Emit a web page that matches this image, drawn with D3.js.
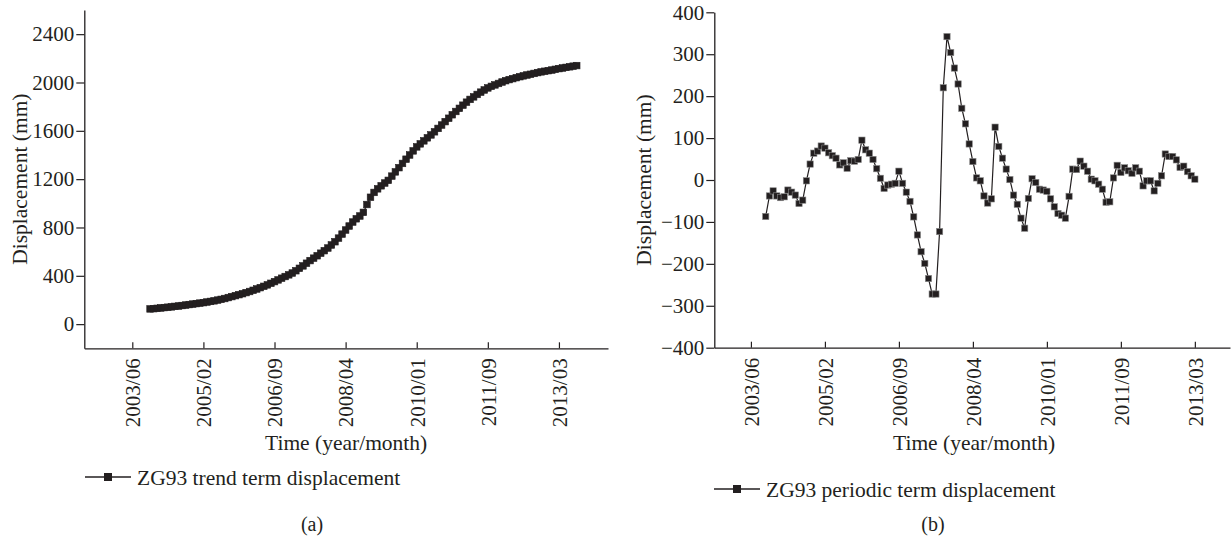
<!DOCTYPE html>
<html><head><meta charset="utf-8">
<script src="https://cdn.jsdelivr.net/npm/d3@7"></script>
<style>
body{margin:0;background:#fff}
svg text{font-family:"Liberation Serif","DejaVu Serif",serif;fill:#231f20}
</style>
</head><body>
<svg id="chart" width="1231" height="544"></svg>
<script>
// Shared time axis: one tick every 20 monthly records
const tickLabels = ["2003/06","2005/02","2006/09","2008/04","2010/01","2011/09","2013/03"];
const tickIndex = [0, 20, 40, 60, 80, 100, 120];

// (a) trend term, records from index 5 onward (mm)
const trendStart = 5;
const trendValues = [
  126,128,131,134,137,140,143,147,150,154,158,162,166,170,174,178,183,188,193,199,
  205,212,220,228,236,244,252,261,270,280,291,302,313,325,338,352,366,380,394,408,
  423,442,462,482,504,526,546,566,587,608,630,655,682,712,745,779,812,845,872,895,
  925,990,1050,1090,1120,1145,1168,1190,1225,1260,1295,1330,1365,1400,1434,1467,1492,1517,1542,1566,
  1592,1620,1648,1676,1704,1733,1760,1786,1812,1837,1860,1881,1901,1920,1938,1955,1968,1980,1992,2004,
  2015,2024,2032,2040,2048,2055,2062,2068,2075,2082,2088,2093,2098,2103,2109,2115,2120,2125,2130,2135,
  2140
];
const trendYTicks = [0, 400, 800, 1200, 1600, 2000, 2400];

// (b) periodic term, records from index 4 onward (mm)
const periodicStart = 4;
const periodicValues = [
  -87,-38,-26,-38,-42,-40,-24,-29,-36,-56,-48,-2,38,64,69,81,76,65,58,52,
  36,41,28,46,45,49,95,72,64,49,27,4,-20,-12,-10,-8,21,-8,
  -29,-51,-88,-131,-171,-199,-235,-272,-272,-123,220,342,304,267,229,171,134,86,44,5,
  -2,-38,-55,-45,126,80,52,26,1,-36,-58,-91,-115,-44,3,-6,-22,
  -24,-27,-45,-64,-80,-84,-91,-39,26,25,45,33,21,2,-2,-10,-22,-53,-52,5,
  35,18,29,22,16,29,21,-14,-2,-2,-26,-8,10,62,56,56,48,30,33,20,10,2
];
const periodicYTicks = [-400, -300, -200, -100, 0, 100, 200, 300, 400];

const ink = "#231f20";
const svg = d3.select("#chart");

function panel(cfg) {
  const g = svg.append("g");
  const x = d3.scaleLinear().domain(cfg.xDomain).range(cfg.xRange);
  const y = d3.scaleLinear().domain(cfg.yDomain).range(cfg.yRange);
  const data = cfg.values.map((v, i) => ({i: cfg.start + i, v}));

  // x axis with inward ticks and vertical labels
  const xAxis = g.append("g")
    .attr("transform", `translate(0,${cfg.yRange[0]})`)
    .call(d3.axisBottom(x).tickValues(tickIndex)
      .tickFormat((d, k) => tickLabels[k]).tickSizeInner(-6).tickSizeOuter(0));
  xAxis.select(".domain").attr("stroke", ink).attr("stroke-width", 1.3);
  xAxis.selectAll(".tick line").attr("stroke", ink).attr("stroke-width", 1.2);
  xAxis.selectAll(".tick text")
    .attr("font-size", 21).attr("fill", ink)
    .attr("transform", "rotate(-90)")
    .attr("text-anchor", "end")
    .attr("x", -10).attr("y", 0).attr("dy", "0.35em");

  // y axis
  const yAxis = g.append("g")
    .attr("transform", `translate(${cfg.xRange[0]},0)`)
    .call(d3.axisLeft(y).tickValues(cfg.yTicks).tickSizeInner(8).tickSizeOuter(0)
      .tickFormat(d => d < 0 ? "\u2212" + Math.abs(d) : d));
  yAxis.select(".domain").attr("stroke", ink).attr("stroke-width", 1.3);
  yAxis.selectAll(".tick line").attr("stroke", ink).attr("stroke-width", 1.2);
  yAxis.selectAll(".tick text").attr("font-size", 21).attr("fill", ink).attr("x", -10);

  // axis titles
  g.append("text")
    .attr("transform", `translate(${cfg.yTitleX},${(cfg.yRange[0] + cfg.yRange[1]) / 2}) rotate(-90)`)
    .attr("text-anchor", "middle").attr("font-size", 21.5)
    .text("Displacement (mm)");
  g.append("text")
    .attr("x", (cfg.xRange[0] + cfg.xRange[1]) / 2 + cfg.xTitleShift).attr("y", 450)
    .attr("text-anchor", "middle").attr("font-size", 21.5)
    .text("Time (year/month)");

  // series
  const line = d3.line().x(d => x(d.i)).y(d => y(d.v));
  g.append("path").datum(data)
    .attr("fill", "none").attr("stroke", ink).attr("stroke-width", 1.2)
    .attr("d", line);
  g.selectAll("rect.pt").data(data).join("rect")
    .attr("class", "pt")
    .attr("x", d => x(d.i) - cfg.marker / 2).attr("y", d => y(d.v) - cfg.marker / 2)
    .attr("width", cfg.marker).attr("height", cfg.marker)
    .attr("fill", ink).attr("stroke", cfg.markerEdge).attr("stroke-width", 0.6);

  // legend
  const lg = g.append("g").attr("transform", `translate(${cfg.legendX},${cfg.legendY})`);
  lg.append("line").attr("x1", 0).attr("x2", 46).attr("y1", 0).attr("y2", 0)
    .attr("stroke", ink).attr("stroke-width", 1.5);
  lg.append("rect").attr("x", 19).attr("y", -4).attr("width", 8).attr("height", 8).attr("fill", ink);
  lg.append("text").attr("x", 52).attr("y", 0).attr("dy", "0.35em")
    .attr("font-size", 21.5).text(cfg.legend);

  // panel caption
  g.append("text").attr("x", cfg.captionX).attr("y", 531)
    .attr("text-anchor", "middle").attr("font-size", 20).text(cfg.caption);
}

panel({
  values: trendValues, start: trendStart, yTicks: trendYTicks,
  xDomain: [-13.5, 133.8], xRange: [84.3, 608],
  yDomain: [-200, 2600], yRange: [348.3, 10],
  yTitleX: 27, xTitleShift: 0,
  marker: 6.6, markerEdge: ink,
  legendX: 85, legendY: 477, legend: "ZG93 trend term displacement",
  caption: "(a)", captionX: 312
});

panel({
  values: periodicValues, start: periodicStart, yTicks: periodicYTicks,
  xDomain: [-9.9, 129.5], xRange: [714.3, 1230],
  yDomain: [-400, 400], yRange: [347.7, 12.3],
  yTitleX: 651, xTitleShift: 2,
  marker: 6.3, markerEdge: "#8a8a8a",
  legendX: 714, legendY: 489, legend: "ZG93 periodic term displacement",
  caption: "(b)", captionX: 933
});
</script>
</body></html>
